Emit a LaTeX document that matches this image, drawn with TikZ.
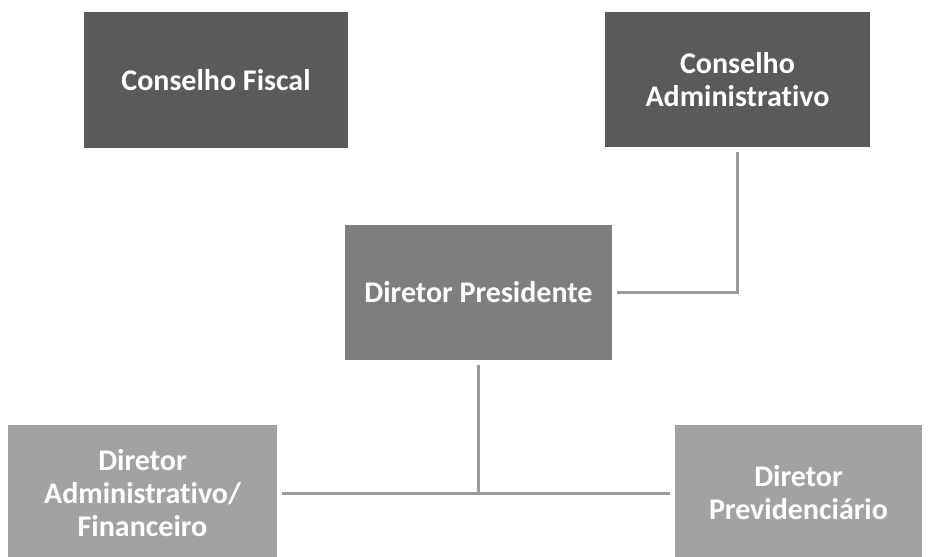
\documentclass[tikz,border=0pt]{standalone}
\usepackage{fontspec}
\setmainfont{Carlito}[Ligatures={NoCommon}]
\usetikzlibrary{positioning}
\definecolor{boxdark}{HTML}{5A5A5A}
\definecolor{boxmid}{HTML}{7E7E7E}
\definecolor{boxlight}{HTML}{A2A2A2}
\definecolor{wire}{HTML}{999999}
\tikzset{
  orgbox/.style={shape=rectangle, text=white, align=center, inner sep=0pt, outer sep=5pt,
    font=\fontsize{30}{33}\selectfont\bfseries},
  orgline/.style={draw=wire, line width=3pt}
}
\begin{document}
\begin{tikzpicture}[x=1pt, y=-1pt]
	\useasboundingbox (0, 0) rectangle (930, 557);
	% Boxes:
	\node[orgbox, fill=boxdark, minimum width=264pt, minimum height=136pt] (fiscal) at (216, 80) {Conselho Fiscal};
	\node[orgbox, fill=boxdark, minimum width=265pt, minimum height=135pt] (conselho) at (737.5, 79.5) {Conselho\\Administrativo};
	\node[orgbox, fill=boxmid, minimum width=267pt, minimum height=135pt] (presidente) at (478.5, 292.5) {Diretor Presidente};
	\node[orgbox, fill=boxlight, minimum width=269pt, minimum height=136pt] (admfin) at (142.5, 493) {Diretor\\Administrativo/\\Financeiro};
	\node[orgbox, fill=boxlight, minimum width=247pt, minimum height=136pt] (previd) at (798.5, 493) {Diretor\\Previdenciário};
	% Wires:
	\coordinate (junction) at (presidente.south |- admfin.east);
	\draw[orgline] (conselho.south) |- (presidente.east);
	\draw[orgline] (presidente.south) -- (junction);
	\draw[orgline] (admfin.east) -- (previd.west);
\end{tikzpicture}
\end{document}
